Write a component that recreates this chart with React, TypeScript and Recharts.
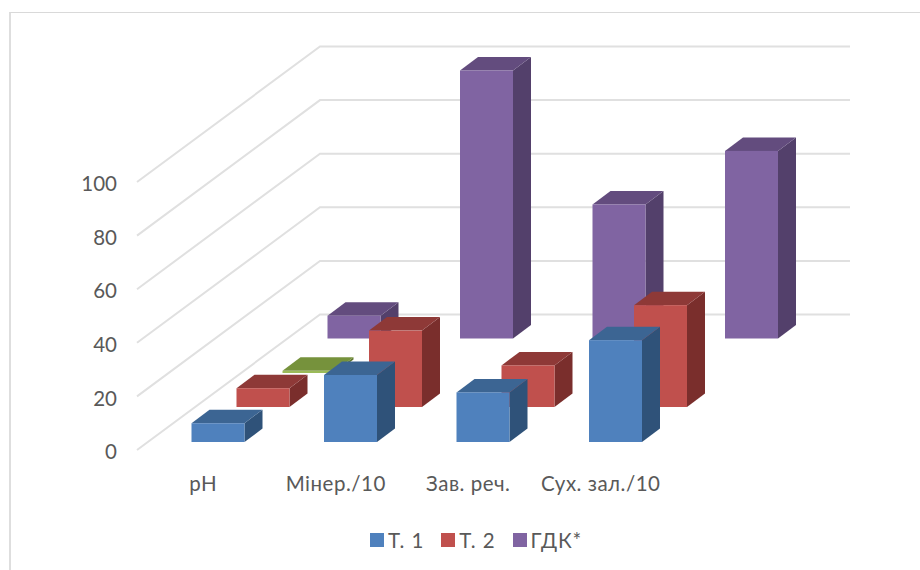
import React from 'react';
import { BarChart, Bar, XAxis, YAxis, ReferenceLine, Legend } from 'recharts';

const categories = ['pH', 'Мінер./10', 'Зав. реч.', 'Сух. зал./10'];
const t1Values = [7, 25, 18.5, 38];
const t2Values = [7, 28.5, 15.5, 38];
const t3Values = [0.8, null, null, null];
const gdkValues = [8.5, 100, 50, 70];
const yTicks = [0, 20, 40, 60, 80, 100];
const legendOrder = ['Т. 1', 'Т. 2', 'ГДК*'];

const chartData = categories.map((name, i) => ({
  name,
  t1: t1Values[i],
  t2: t2Values[i],
  t3: t3Values[i],
  gdk: gdkValues[i],
}));

const FONT = 'Lato, "Noto Sans", sans-serif';
const TEXT_COLOR = '#595959';
const GRID_COLOR = '#e0e0e0';
const BAR_WIDTH = 53;

// how far the floor recedes from the front edge to the back wall
const WALL_DX = 183;
const WALL_DY = 135.5;

// size of each box's top and side faces
const BOX_DX = 18;
const BOX_DY = 13.5;

// fake-3D box: every row is pushed back along the floor by dx/dy
const boxShape = (dx: number, dy: number, top: string, side: string) => (props: any) => {
  const { x, y, width, height, fill } = props;
  if (x == null || height == null || height <= 0) return <g />;
  const l = x + dx;
  const r = l + width;
  const t = y + dy;
  const b = t + height;
  return (
    <g>
      <polygon points={`${r},${t} ${r + BOX_DX},${t - BOX_DY} ${r + BOX_DX},${b - BOX_DY} ${r},${b}`} fill={side} />
      <polygon points={`${l},${t} ${l + BOX_DX},${t - BOX_DY} ${r + BOX_DX},${t - BOX_DY} ${r},${t}`} fill={top} />
      <rect x={l} y={t} width={width} height={height} fill={fill} />
    </g>
  );
};

// gridline running along the left wall and then across the back wall
const wallLine = (props: any) => {
  const { x1, y1, x2 } = props;
  const bx = x1 + WALL_DX;
  const by = y1 - WALL_DY;
  return (
    <path
      d={`M${x1},${y1} L${bx},${by} L${x2 + WALL_DX},${by}`}
      fill="none"
      stroke={GRID_COLOR}
      strokeWidth={2}
    />
  );
};

const renderLegend = ({ payload }: any) => {
  const items = [...(payload || [])].filter((p) => legendOrder.includes(p.value));
  items.sort((a, b) => legendOrder.indexOf(a.value) - legendOrder.indexOf(b.value));
  return (
    <div style={{ display: 'flex', justifyContent: 'flex-start', marginLeft: 370, gap: 17 }}>
      {items.map((p) => (
        <div key={p.value} style={{ display: 'flex', alignItems: 'center', gap: 4 }}>
          <span style={{ width: 14, height: 14, background: p.color, display: 'inline-block' }} />
          <span style={{ color: TEXT_COLOR, fontSize: 20.5, fontFamily: FONT, letterSpacing: 0.9 }}>{p.value}</span>
        </div>
      ))}
    </div>
  );
};

export default function App() {
  return (
    <div style={{ position: 'absolute', left: 0, top: 0, width: 920, height: 570, background: '#fff', overflow: 'hidden' }}>
      {/* chart frame, only the top and left edges show */}
      <div style={{ position: 'absolute', left: 9, top: 12, right: 0, bottom: 0, borderTop: '1.5px solid #d9d9d9', borderLeft: '2px solid #dedede' }} />
      <div style={{ position: 'absolute', left: 0, top: 0 }}>
        <BarChart
          width={920}
          height={570}
          data={chartData}
          margin={{ top: 182, right: 253, bottom: 90, left: 77 }}
          barSize={BAR_WIDTH}
          barGap={-BAR_WIDTH}
        >
          <XAxis
            dataKey="name"
            axisLine={false}
            tickLine={false}
            tickSize={0}
            tickMargin={24}
            height={30}
            interval={0}
            tick={{ fill: TEXT_COLOR, fontSize: 20.5, fontFamily: FONT, dy: 2, letterSpacing: 0.5 }}
          />
          <YAxis
            type="number"
            domain={[0, 100]}
            ticks={yTicks}
            width={60}
            axisLine={false}
            tickLine={false}
            tickSize={0}
            tickMargin={20}
            tick={{ fill: TEXT_COLOR, fontSize: 20.5, fontFamily: FONT, dy: 2 }}
          />
          {yTicks.map((v) => (
            <ReferenceLine key={v} y={v} shape={wallLine} zIndex={-10} />
          ))}
          <Legend
            verticalAlign="middle"
            align="center"
            content={renderLegend}
            wrapperStyle={{ top: 528, left: 0, width: 920 }}
          />
          {/* back row first so the nearer rows paint over it */}
          <Bar dataKey="gdk" name="ГДК*" fill="#8064a2" isAnimationActive={false} shape={boxShape(150.5, -111.5, '#634c7e', '#53406b')} />
          <Bar dataKey="t3" name="Т. 3" fill="#9bbb59" legendType="none" isAnimationActive={false} shape={boxShape(105.5, -77, '#76923c', '#5f7530')} />
          <Bar dataKey="t2" name="Т. 2" fill="#c0504d" isAnimationActive={false} shape={boxShape(59.5, -43, '#8e3937', '#7a2e2c')} />
          <Bar dataKey="t1" name="Т. 1" fill="#4f81bd" isAnimationActive={false} shape={boxShape(14.5, -8, '#3c6593', '#2f5279')} />
        </BarChart>
      </div>
    </div>
  );
}
